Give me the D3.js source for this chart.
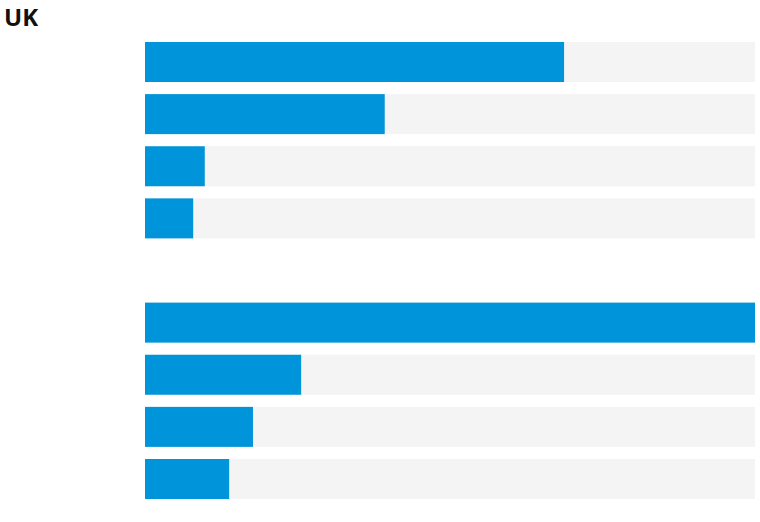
<!DOCTYPE html>
<html>
<head>
<meta charset="utf-8">
<script src="https://cdn.jsdelivr.net/npm/d3@7"></script>
<style>
  html, body { margin: 0; padding: 0; background: #fff; }
  svg { display: block; }
</style>
</head>
<body>
<svg id="chart" width="760" height="522"></svg>
<script>
const title = "UK";
const categories = ["g1-a", "g1-b", "g1-c", "g1-d", "gap", "g2-a", "g2-b", "g2-c", "g2-d"];
const groupOne = [68.7, 39.3, 9.8, 7.9];
const groupTwo = [100, 25.6, 17.7, 13.8];
const maxValue = 100;

const rows = [
  ...groupOne.map((v, i) => ({ key: categories[i], value: v })),
  ...groupTwo.map((v, i) => ({ key: categories[i + 5], value: v }))
];

const svg = d3.select("#chart");

const x = d3.scaleLinear().domain([0, maxValue]).range([145, 755]);
const y = d3.scaleBand()
  .domain(categories)
  .range([35.94, 505.06])
  .paddingInner(0.2326)
  .paddingOuter(0.5 * 0.2326);

svg.append("text")
  .attr("x", 4)
  .attr("y", 26)
  .attr("font-family", "'Open Sans', sans-serif")
  .attr("font-weight", 700)
  .attr("font-size", 24)
  .attr("fill", "#111")
  .text(title);

const g = svg.append("g");

g.selectAll("rect.bg")
  .data(rows)
  .join("rect")
  .attr("class", "bg")
  .attr("x", x(0))
  .attr("y", d => y(d.key))
  .attr("width", x(maxValue) - x(0))
  .attr("height", y.bandwidth())
  .attr("fill", "#f4f4f4");

g.selectAll("rect.bar")
  .data(rows)
  .join("rect")
  .attr("class", "bar")
  .attr("x", x(0))
  .attr("y", d => y(d.key))
  .attr("width", d => x(d.value) - x(0))
  .attr("height", y.bandwidth())
  .attr("fill", "#0094da");
</script>
</body>
</html>
